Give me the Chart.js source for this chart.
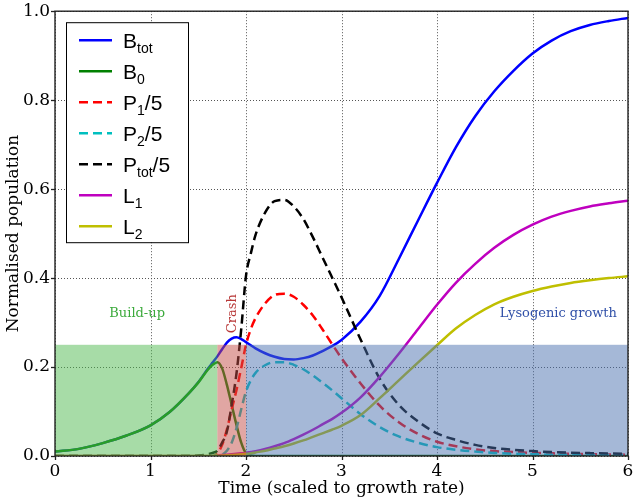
<!DOCTYPE html>
<html><head><meta charset="utf-8">
<script src="https://cdn.jsdelivr.net/npm/chart.js@4.4.1/dist/chart.umd.min.js"></script>
<style>html,body{margin:0;padding:0;background:#fff;}</style>
</head><body>
<canvas id="c" width="638" height="503"></canvas>
<script>
// ---- data ----
const t     = [0,0.25,0.5,0.75,1.0,1.2,1.4,1.5,1.6,1.65,1.7,1.75,1.8,1.85,1.9,1.95,2.0,2.05,2.1,2.2,2.3,2.4,2.5,2.6,2.7,2.8,2.9,3.0,3.2,3.4,3.6,3.8,4.0,4.2,4.4,4.6,4.8,5.0,5.2,5.4,5.6,5.8,6.0];
const Btot  = [0.010,0.016,0.029,0.046,0.069,0.099,0.141,0.166,0.196,0.210,0.224,0.240,0.255,0.264,0.267,0.263,0.256,0.249,0.242,0.231,0.223,0.218,0.217,0.220,0.226,0.236,0.247,0.261,0.302,0.360,0.443,0.529,0.614,0.695,0.764,0.820,0.866,0.905,0.934,0.955,0.969,0.978,0.985];
const B0    = [0.010,0.016,0.029,0.046,0.069,0.099,0.141,0.165,0.194,0.205,0.211,0.197,0.160,0.115,0.070,0.030,0.006,0.001,0,0,0,0,0,0,0,0,0,0,0,0,0,0,0,0,0,0,0,0,0,0,0,0,0];
const P1_5  = [0,0,0,0,0,0,0,0,0,0,0.006,0.025,0.060,0.105,0.148,0.198,0.250,0.285,0.310,0.343,0.362,0.365,0.358,0.340,0.316,0.285,0.252,0.220,0.163,0.113,0.076,0.050,0.032,0.022,0.015,0.011,0.009,0.007,0.006,0.005,0.004,0.0035,0.003];
const P2_5  = [0,0,0,0,0,0,0,0,0,0,0,0.003,0.012,0.030,0.062,0.105,0.145,0.170,0.187,0.204,0.211,0.211,0.205,0.195,0.181,0.165,0.148,0.130,0.094,0.065,0.044,0.030,0.020,0.014,0.010,0.007,0.005,0.004,0.003,0.0025,0.002,0.002,0.002];
const Ptot_5= [0,0,0,0,0,0,0,0.001,0.004,0.007,0.012,0.030,0.055,0.115,0.185,0.285,0.405,0.455,0.497,0.547,0.573,0.576,0.561,0.533,0.492,0.447,0.402,0.357,0.262,0.174,0.115,0.078,0.051,0.036,0.025,0.018,0.014,0.011,0.009,0.0075,0.0065,0.0055,0.005];
const L1    = [0,0,0,0,0,0,0,0,0,0,0.001,0.002,0.003,0.004,0.005,0.006,0.007,0.009,0.011,0.016,0.022,0.029,0.038,0.048,0.059,0.071,0.083,0.097,0.132,0.178,0.230,0.285,0.340,0.390,0.432,0.468,0.497,0.520,0.538,0.551,0.561,0.568,0.574];
const L2    = [0,0,0,0,0,0,0,0,0,0,0.0005,0.001,0.0015,0.002,0.003,0.004,0.005,0.006,0.008,0.012,0.017,0.022,0.028,0.035,0.043,0.051,0.059,0.068,0.092,0.130,0.170,0.210,0.249,0.287,0.317,0.341,0.358,0.371,0.381,0.389,0.395,0.400,0.404];

const seriesLabels = ['B_tot','B_0','P_1/5','P_2/5','P_tot/5','L_1','L_2'];
const legendParts  = [['B','tot',''],['B','0',''],['P','1','/5'],['P','2','/5'],['P','tot','/5'],['L','1',''],['L','2','']];
const xTickLabels  = ['0','1','2','3','4','5','6'];
const yTickLabels  = ['0.0','0.2','0.4','0.6','0.8','1.0'];
const phaseNames   = ['Build-up','Crash','Lysogenic growth'];
const phaseStart   = [0, 1.70, 2.0];
const phaseEnd     = [1.70, 2.0, 6.0];
const phaseTop     = [0.25, 0.25, 0.25];

// ---- styles ----
const seriesValues = [Btot, B0, P1_5, P2_5, Ptot_5, L1, L2];
const colors = ['#0000ff','#008000','#ff0000','#00bfbf','#000000','#bf00bf','#bfbf00'];
const dashed = [false,false,true,true,true,false,false];
const DASH = [9,5];
const phaseFill = ['rgba(80,185,80,0.5)','rgba(196,78,72,0.5)','rgba(76,114,176,0.5)'];
const phaseText = ['#3caa3c','#b83838','#3050a8'];
const SERIF = '"DejaVu Serif", serif';
const SANS = '"Liberation Sans", Arial, sans-serif';

const datasets = seriesValues.map((vals,i)=>({
  label: seriesLabels[i],
  data: vals.map((v,k)=>({x:t[k], y:v})),
  borderColor: colors[i],
  backgroundColor: colors[i],
  borderWidth: 2.5,
  borderDash: dashed[i] ? DASH : [],
  pointRadius: 0,
  fill: false,
  cubicInterpolationMode: 'monotone',
  order: 10 - i
}));

const gridPlugin = {
  id: 'gridPlugin',
  beforeDatasetsDraw(chart) {
    const {ctx, chartArea: ca} = chart;
    const x = chart.scales.x, y = chart.scales.y;
    ctx.save();
    ctx.strokeStyle = '#555';
    ctx.lineWidth = 1;
    ctx.setLineDash([1, 2]);
    for (let v = 0; v <= 6; v++) {
      const px = Math.round(x.getPixelForValue(v)) + 0.5;
      ctx.beginPath(); ctx.moveTo(px, ca.top); ctx.lineTo(px, ca.bottom); ctx.stroke();
    }
    for (let k = 0; k <= 5; k++) {
      const py = Math.round(y.getPixelForValue(k / 5)) + 0.5;
      ctx.beginPath(); ctx.moveTo(ca.left, py); ctx.lineTo(ca.right, py); ctx.stroke();
    }
    ctx.setLineDash([]);
    ctx.strokeStyle = '#222';
    ctx.lineWidth = 1.3;
    for (let v = 0; v <= 6; v++) {
      const px = Math.round(x.getPixelForValue(v)) + 0.5;
      ctx.beginPath(); ctx.moveTo(px, ca.bottom); ctx.lineTo(px, ca.bottom + 4); ctx.stroke();
    }
    for (let k = 0; k <= 5; k++) {
      const py = Math.round(y.getPixelForValue(k / 5)) + 0.5;
      ctx.beginPath(); ctx.moveTo(ca.left - 4, py); ctx.lineTo(ca.left, py); ctx.stroke();
    }
    ctx.restore();
  }
};

const overlay = {
  id: 'overlay',
  afterDatasetsDraw(chart) {
    const {ctx, chartArea: ca} = chart;
    const x = chart.scales.x, y = chart.scales.y;
    ctx.save();
    ctx.beginPath(); ctx.rect(ca.left, ca.top, ca.right-ca.left, ca.bottom-ca.top); ctx.clip();
    for (let i=0;i<phaseNames.length;i++){
      const x0 = x.getPixelForValue(phaseStart[i]), x1 = x.getPixelForValue(phaseEnd[i]);
      const y0 = y.getPixelForValue(phaseTop[i]), y1 = y.getPixelForValue(0);
      ctx.fillStyle = phaseFill[i];
      ctx.fillRect(x0, y0, x1-x0, y1-y0);
    }
    ctx.restore();
    ctx.save();
    ctx.strokeStyle = '#222'; ctx.lineWidth = 1.4;
    ctx.strokeRect(ca.left, ca.top, ca.right-ca.left, ca.bottom-ca.top);
    ctx.font = '13px ' + SERIF;
    ctx.textAlign = 'center'; ctx.textBaseline = 'middle';
    const ly = y.getPixelForValue(0.32);
    ctx.fillStyle = phaseText[0];
    ctx.fillText(phaseNames[0], x.getPixelForValue(0.86), ly);
    ctx.save();
    ctx.translate(x.getPixelForValue(1.855), ly);
    ctx.rotate(-Math.PI/2);
    ctx.fillStyle = phaseText[1];
    ctx.fillText(phaseNames[1], 0, 0);
    ctx.restore();
    ctx.fillStyle = phaseText[2];
    ctx.fillText(phaseNames[2], x.getPixelForValue(5.27), ly);
    // legend
    const L = ca.left + 11, T = ca.top + 11, W = 122, H = 220;
    ctx.fillStyle = '#fff'; ctx.fillRect(L, T, W, H);
    ctx.strokeStyle = '#000'; ctx.lineWidth = 1;
    ctx.strokeRect(L+0.5, T+0.5, W, H);
    ctx.textAlign = 'left'; ctx.textBaseline = 'alphabetic';
    for (let i=0;i<legendParts.length;i++){
      const cy = T + 18 + i*31;
      ctx.save();
      ctx.strokeStyle = colors[i]; ctx.lineWidth = 2.5;
      ctx.setLineDash(dashed[i] ? DASH : []);
      ctx.beginPath(); ctx.moveTo(L+13, cy); ctx.lineTo(L+46, cy); ctx.stroke();
      ctx.restore();
      const [base, sub, tail] = legendParts[i];
      let px = L + 57;
      const by = cy + 7.5;
      ctx.fillStyle = '#000';
      ctx.font = '21px ' + SANS;
      ctx.fillText(base, px, by); px += ctx.measureText(base).width;
      ctx.font = '14px ' + SANS;
      ctx.fillText(sub, px, by + 5); px += ctx.measureText(sub).width;
      ctx.font = '21px ' + SANS;
      if (tail) ctx.fillText(tail, px, by);
    }
    ctx.restore();
  }
};

new Chart(document.getElementById('c'), {
  type: 'line',
  data: { datasets },
  options: {
    responsive: false, animation: false, devicePixelRatio: 1,
    layout: { padding: { top: 10, right: 10, left: 0, bottom: 0 } },
    plugins: { legend: { display: false }, tooltip: { enabled: false } },
    scales: {
      x: {
        type: 'linear', min: 0, max: 6,
        afterFit: s => { s.height = 47; },
        ticks: { stepSize: 1, color: '#000', font: { family: SERIF, size: 17 }, padding: 1,
                 callback: v => xTickLabels[Math.round(v)] },
        grid: { drawOnChartArea: false, drawTicks: true, tickLength: 4, color: 'rgba(0,0,0,0)' },
        border: { display: false },
        title: { display: true, text: 'Time (scaled to growth rate)', color: '#000',
                 font: { family: SERIF, size: 17 }, padding: { top: 0, bottom: 4 } }
      },
      y: {
        type: 'linear', min: 0, max: 1,
        afterFit: s => { s.width = 55; },
        ticks: { stepSize: 0.2, color: '#000', font: { family: SERIF, size: 17 }, padding: 1,
                 callback: v => yTickLabels[Math.round(v*5)] },
        grid: { drawOnChartArea: false, drawTicks: true, tickLength: 4, color: 'rgba(0,0,0,0)' },
        border: { display: false },
        title: { display: true, text: 'Normalised population', color: '#000',
                 font: { family: SERIF, size: 17 }, padding: { top: 3, bottom: 0 } }
      }
    }
  },
  plugins: [gridPlugin, overlay]
});
</script>
</body></html>
